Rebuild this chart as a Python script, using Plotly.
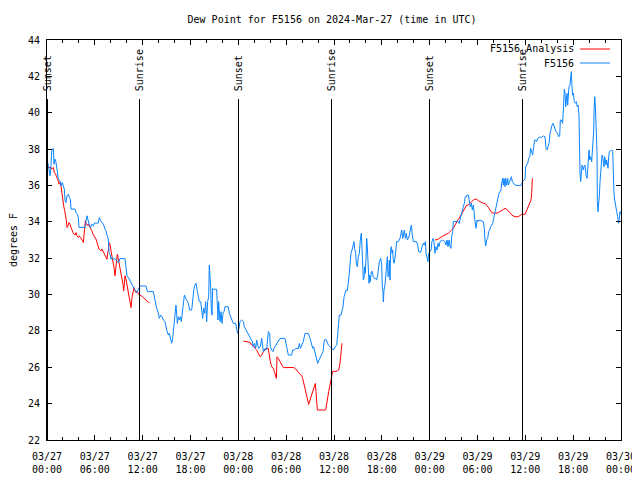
import pandas as pd
import plotly.graph_objects as go

BASE = pd.Timestamp("2024-03-27 00:00")

# ---- F5156 observations: hours after 03/27 00:00 UTC, dew point (F)
obs_hours = [
    0.0, 0.08, 0.25, 0.38, 0.5, 0.59, 0.71, 0.79, 0.88, 1.0, 1.13, 1.21, 1.34, 1.42, 1.63, 1.76, 1.92, 2.05, 2.17, 2.26,
    2.38, 2.51, 2.68, 2.8, 2.93, 3.01, 3.51, 3.64, 3.81, 3.93, 4.01, 4.77, 4.89, 5.02, 5.18, 5.31, 5.48, 5.6, 5.81, 5.94,
    6.44, 6.56, 6.73, 6.86, 7.07, 7.28, 7.4, 7.53, 7.69, 7.78, 7.9, 8.03, 8.15, 8.32, 8.53, 8.74, 8.95, 9.16, 9.78, 9.91,
    10.04, 10.2, 10.41, 10.62, 10.75, 10.96, 11.12, 11.29, 11.46, 11.67, 12.42, 12.59, 13.34, 13.46, 13.59, 13.76, 13.97,
    14.09, 14.26, 14.43, 14.59, 14.8, 15.01, 15.22, 15.34, 15.51, 15.64, 15.76, 15.93, 16.06, 16.18, 16.35, 16.47, 16.6,
    16.73, 16.85, 16.98, 17.1, 17.23, 17.4, 17.52, 17.65, 17.77, 17.9, 18.15, 18.27, 18.44, 18.56, 18.69, 18.86, 18.98,
    19.11, 19.28, 19.4, 19.53, 19.65, 19.78, 19.9, 20.03, 20.15, 20.28, 20.36, 20.45, 20.53, 20.61, 20.7, 20.78, 20.91,
    21.28, 21.37, 21.45, 21.53, 21.62, 21.7, 21.83, 21.95, 22.08, 22.2, 22.33, 22.74, 22.87, 23.04, 23.21, 23.37, 23.66,
    23.79, 23.91, 24.08, 24.21, 24.42, 24.63, 24.75, 24.96, 25.17, 25.38, 25.59, 25.76, 25.88, 26.01, 26.18, 26.3, 26.43,
    26.55, 26.76, 26.93, 27.14, 27.35, 27.55, 27.76, 27.93, 28.01, 28.18, 28.35, 28.47, 28.6, 28.81, 29.02, 29.23, 29.85,
    30.06, 30.27, 30.69, 30.82, 31.02, 31.23, 31.53, 31.65, 31.78, 31.95, 32.15, 32.36, 32.78, 32.99, 33.12, 33.33, 33.45,
    33.62, 33.83, 33.95, 34.12, 34.29, 34.45, 34.62, 34.79, 34.96, 35.12, 35.29, 35.5, 35.71, 35.92, 36.13, 36.34, 36.46,
    36.54, 36.67, 36.88, 37.0, 37.13, 37.26, 37.38, 37.51, 37.67, 37.8, 37.88, 38.01, 38.13, 38.26, 38.38, 38.51, 38.59,
    38.72, 38.8, 38.93, 39.05, 39.18, 39.3, 39.43, 39.51, 39.6, 39.68, 39.76, 39.85, 39.93, 40.02, 40.1, 40.18, 40.27,
    40.39, 40.48, 40.56, 40.68, 40.81, 40.93, 41.06, 41.19, 41.35, 41.48, 41.6, 41.69, 41.86, 41.98, 42.06, 42.15, 42.19,
    42.27, 42.4, 42.52, 42.61, 42.69, 42.78, 42.86, 42.94, 43.03, 43.11, 43.19, 43.28, 43.36, 43.44, 43.53, 43.65, 43.78,
    43.86, 44.07, 44.28, 44.41, 44.49, 44.62, 44.7, 44.82, 44.95, 45.07, 45.2, 45.33, 45.45, 45.58, 45.7, 45.83, 45.95,
    46.37, 46.5, 46.62, 46.87, 47.04, 47.21, 47.33, 47.46, 47.54, 47.71, 47.79, 47.88, 48.04, 48.17, 48.29, 48.42, 48.54,
    48.67, 48.8, 48.92, 49.05, 49.17, 49.3, 49.59, 49.92, 50.05, 50.18, 50.3, 50.43, 50.55, 50.68, 50.76, 50.89, 50.97,
    51.6, 51.72, 51.85, 51.97, 52.1, 52.22, 52.35, 52.47, 52.6, 52.68, 52.85, 52.98, 53.1, 53.23, 53.35, 53.48, 53.6,
    53.69, 53.81, 53.94, 54.06, 54.19, 54.73, 54.86, 54.94, 55.03, 55.15, 55.28, 55.4, 55.53, 55.65, 55.78, 55.9, 56.03,
    56.16, 56.28, 56.41, 56.53, 56.61, 56.7, 56.82, 56.95, 57.03, 57.16, 57.24, 57.32, 57.45, 57.54, 57.66, 57.79, 57.87,
    57.99, 58.12, 58.25, 58.37, 58.54, 58.71, 59.12, 59.54, 59.62, 59.79, 59.96, 60.04, 60.17, 60.3, 60.42, 60.55, 60.67,
    60.8, 60.92, 61.05, 61.17, 61.3, 61.42, 61.55, 61.76, 62.05, 62.26, 62.47, 62.59, 62.72, 62.85, 62.97, 63.1, 63.22,
    63.35, 63.47, 63.6, 63.72, 63.85, 64.02, 64.18, 64.31, 64.39, 64.52, 64.6, 64.68, 64.77, 64.89, 64.98, 65.06, 65.14,
    65.23, 65.31, 65.39, 65.48, 65.6, 65.69, 65.77, 65.85, 65.94, 66.02, 66.15, 66.27, 66.4, 66.52, 66.61, 66.73, 66.77,
    66.86, 66.94, 67.02, 67.11, 67.19, 67.28, 67.36, 67.49, 67.61, 67.74, 67.82, 67.9, 67.99, 68.07, 68.2, 68.32, 68.41,
    68.49, 68.57, 68.62, 68.7, 68.78, 68.87, 68.99, 69.03, 69.12, 69.2, 69.28, 69.37, 69.45, 69.53, 69.62, 69.7, 69.79,
    69.87, 69.95, 70.04, 70.12, 70.2, 70.29, 70.37, 70.46, 70.54, 70.71, 70.87, 70.96, 71.04, 71.12, 71.21, 71.33, 71.46,
    71.58, 71.71, 71.79, 71.88, 71.96, 72.0,
]
obs_dewpt = [
    37.36, 37.27, 36.9, 36.53, 37.08, 37.9, 38.0, 38.04, 37.17, 37.45, 37.27, 36.99, 36.81, 36.35, 36.26, 35.98, 36.17,
    35.98, 35.8, 35.16, 35.06, 35.43, 35.52, 35.34, 35.25, 34.7, 34.7, 34.51, 34.42, 34.24, 33.69, 33.69, 34.15, 34.33,
    34.06, 33.78, 33.69, 33.87, 33.78, 33.93, 33.93, 34.24, 34.06, 33.96, 33.87, 33.6, 33.5, 33.27, 33.05, 32.31, 32.22,
    31.94, 32.04, 31.94, 31.98, 31.85, 31.76, 31.98, 31.98, 31.49, 31.03, 30.94, 30.75, 30.57, 30.39, 30.29, 30.2, 30.11,
    30.29, 30.47, 30.47, 30.16, 30.16, 29.88, 29.42, 29.24, 28.97, 28.69, 28.87, 28.78, 28.6, 28.51, 28.05, 27.77, 27.87,
    27.5, 27.32, 27.59, 28.51, 29.24, 29.42, 28.41, 28.78, 28.6, 28.78, 28.51, 29.15, 29.61, 29.97, 29.79, 29.7, 29.61,
    29.42, 29.15, 29.15, 29.7, 30.34, 30.52, 30.62, 30.16, 29.79, 29.61, 29.61, 29.06, 28.69, 29.24, 28.97, 29.61, 28.51,
    29.61, 29.88, 31.62, 31.07, 30.43, 29.24, 28.87, 30.34, 30.29, 30.29, 29.06, 28.6, 29.61, 28.87, 28.51, 29.06, 28.41,
    28.97, 29.06, 29.33, 29.33, 28.97, 28.78, 28.51, 28.41, 28.41, 28.14, 27.87, 28.14, 28.51, 28.6, 28.51, 28.23, 28.05,
    27.86, 27.68, 27.5, 27.41, 27.13, 27.31, 27.04, 27.5, 27.22, 27.04, 27.13, 27.59, 26.86, 27.04, 26.95, 27.96, 27.86,
    27.13, 26.95, 26.86, 27.04, 27.13, 27.31, 27.41, 27.59, 27.59, 27.13, 26.67, 26.67, 26.95, 26.95, 27.04, 27.04, 27.31,
    27.04, 27.22, 27.41, 27.86, 27.86, 27.59, 27.31, 27.04, 27.13, 26.76, 26.49, 26.21, 26.4, 26.58, 26.67, 26.86, 27.5,
    27.55, 27.41, 27.22, 27.13, 27.04, 26.95, 27.13, 27.22, 27.77, 28.42, 28.87, 28.87, 29.06, 29.33, 29.88, 30.16, 30.25,
    30.21, 30.62, 30.98, 31.62, 32.27, 32.45, 32.72, 32.91, 32.54, 32.27, 31.72, 31.53, 32.08, 32.27, 33.0, 33.37, 32.63,
    31.72, 30.8, 30.89, 31.53, 31.17, 32.08, 33.09, 32.63, 31.35, 30.62, 31.07, 30.71, 31.26, 31.26, 30.98, 30.89, 30.89,
    30.8, 31.07, 31.44, 31.81, 31.99, 31.62, 30.43, 30.16, 29.59, 30.25, 30.52, 31.07, 31.71, 32.08, 30.98, 31.07, 31.9,
    30.8, 32.45, 32.63, 32.27, 32.45, 31.9, 31.72, 31.99, 32.63, 32.91, 32.91, 33.09, 33.37, 33.55, 33.09, 33.27, 33.55,
    33.09, 33.37, 33.0, 33.09, 33.27, 33.64, 33.82, 33.27, 32.91, 32.91, 32.72, 32.36, 32.32, 32.63, 32.82, 32.72, 32.91,
    32.27, 31.99, 31.81, 32.27, 32.36, 32.45, 32.91, 33.09, 32.91, 32.27, 32.63, 32.45, 32.82, 32.63, 32.91, 33.0, 32.91,
    32.72, 33.0, 32.63, 33.0, 32.63, 32.54, 33.18, 33.46, 34.01, 34.01, 33.91, 34.19, 34.47, 34.74, 34.83, 35.02, 35.38,
    35.38, 35.47, 35.47, 35.2, 34.83, 35.02, 34.65, 34.92, 34.56, 34.01, 33.64, 34.1, 34.01, 34.1, 34.01, 33.64, 33.0,
    32.67, 33.0, 33.09, 33.46, 33.55, 33.73, 33.82, 33.91, 34.19, 34.47, 34.74, 35.02, 35.11, 35.29, 35.57, 35.66, 35.75,
    36.12, 36.39, 36.02, 36.39, 35.93, 36.39, 36.02, 36.39, 36.02, 36.21, 36.3, 36.48, 36.21, 36.08, 36.02, 35.99, 36.02,
    36.21, 36.3, 36.34, 37.03, 37.12, 37.22, 37.49, 37.58, 38.04, 37.86, 37.67, 38.13, 38.5, 38.5, 38.41, 38.59, 38.65,
    38.65, 38.72, 38.68, 38.04, 37.95, 38.13, 38.32, 38.87, 39.14, 39.32, 39.42, 39.23, 39.05, 38.96, 38.87, 38.68, 38.72,
    39.6, 39.6, 39.51, 39.42, 40.15, 41.29, 41.07, 40.33, 40.7, 41.07, 40.42, 40.88, 41.43, 41.52, 42.07, 42.26, 41.43,
    40.97, 41.07, 40.61, 40.52, 40.61, 40.33, 40.42, 39.87, 37.77, 36.67, 36.21, 36.57, 37.12, 37.03, 36.85, 37.03, 37.12,
    36.57, 36.39, 36.85, 37.67, 37.95, 37.4, 37.58, 37.31, 37.86, 38.5, 38.96, 40.06, 40.88, 40.42, 38.96, 37.86, 35.11,
    34.56, 35.02, 35.38, 36.21, 36.85, 37.22, 37.67, 37.58, 37.03, 37.03, 37.58, 37.31, 37.12, 37.4, 37.03, 36.94, 37.58,
    37.86, 37.91, 37.95, 37.86, 36.3, 35.57, 35.2, 34.74, 34.56, 34.28, 33.92, 34.19, 34.56, 34.47, 34.4,
]

# ---- F5156 analysis: three daily runs (None separates runs)
ana_hours = [
    0.0, 0.5, 0.59, 0.79, 0.92, 1.09, 1.21, 1.34, 1.51, 1.63, 1.76, 1.84, 1.97, 2.09, 2.22, 2.34, 2.43, 2.51, 2.63, 2.76,
    2.88, 3.01, 3.14, 3.26, 3.39, 3.51, 3.64, 3.76, 3.93, 4.06, 4.18, 4.35, 4.47, 4.56, 4.64, 4.72, 4.81, 4.89, 5.02, 5.14,
    5.27, 5.39, 5.52, 5.64, 5.77, 5.9, 6.02, 6.15, 6.27, 6.4, 6.52, 6.65, 6.77, 6.9, 7.02, 7.15, 7.28, 7.4, 7.53, 7.61,
    7.69, 7.78, 7.9, 8.03, 8.15, 8.28, 8.4, 8.53, 8.61, 8.74, 8.82, 8.91, 9.03, 9.16, 9.28, 9.41, 9.53, 9.62, 9.7, 9.78,
    9.91, 10.04, 10.16, 10.29, 10.41, 10.54, 10.66, 10.79, 10.91, 11.04, 11.16, 11.29, 11.46, 11.67, 11.87, 12.08, 12.29,
    12.5, 12.71, 12.84, None,
    24.63, 25.05, 25.46, 25.67, 25.88, 26.09, 26.3, 26.51, 26.72, 26.93, 27.14, 27.35, 27.55, 27.76, 27.89, 28.01, 28.18,
    28.39, 28.52, 28.64, 28.77, 28.85, 29.02, 29.23, 29.44, 29.65, 29.85, 30.27, 30.9, 31.11, 31.32, 31.53, 31.74, 31.95,
    32.07, 32.2, 32.32, 32.45, 32.57, 32.7, 32.82, 32.99, 33.2, 33.41, 33.53, 33.66, 33.74, 33.83, 33.91, 34.96, 35.08,
    35.21, 35.33, 35.46, 35.58, 35.71, 35.83, 36.0, 36.13, 36.42, 36.59, 36.75, 36.88, 37.0, None,
    48.67, 49.09, 49.51, 49.92, 50.34, 50.76, 50.97, 51.18, 51.39, 51.6, 51.81, 52.02, 52.22, 52.43, 52.64, 52.85, 53.06,
    53.27, 53.48, 53.69, 53.9, 54.11, 54.32, 54.52, 54.73, 54.94, 55.15, 55.36, 55.57, 55.78, 56.2, 56.61, 56.82, 57.03,
    57.24, 57.45, 57.66, 57.87, 58.08, 58.29, 58.5, 58.71, 59.12, 59.33, 59.54, 59.96, 60.17, 60.38, 60.59, 60.71, 60.8,
    60.84, 60.88,
]
ana_dewpt = [
    36.99, 36.99, 36.9, 36.99, 36.72, 36.62, 36.44, 36.35, 36.07, 36.17, 35.98, 35.61, 35.25, 34.88, 34.61, 34.33, 34.06,
    33.69, 33.78, 33.96, 33.87, 33.69, 33.5, 33.41, 33.32, 33.27, 33.41, 33.23, 33.14, 33.23, 33.14, 33.05, 32.95, 32.86,
    33.32, 33.69, 34.06, 33.87, 33.87, 33.78, 33.87, 33.69, 33.6, 33.5, 33.32, 33.23, 33.14, 33.05, 32.86, 32.59, 32.5,
    32.46, 32.4, 32.5, 32.4, 32.31, 32.22, 32.04, 31.94, 32.31, 32.4, 32.86, 32.77, 32.4, 32.13, 31.85, 31.49, 31.03,
    31.3, 31.76, 32.22, 32.04, 31.76, 31.39, 31.21, 30.94, 30.57, 30.2, 30.57, 31.03, 30.84, 30.48, 30.11, 29.93, 29.65,
    29.28, 29.83, 30.29, 30.39, 30.2, 30.11, 30.2, 30.02, 29.96, 29.93, 29.83, 29.75, 29.64, 29.57, 29.57, None,
    27.44, 27.41, 27.37, 27.22, 27.19, 27.04, 26.95, 26.76, 26.58, 26.67, 26.86, 26.95, 27.04, 27.04, 26.58, 26.31, 26.03,
    25.94, 25.76, 25.57, 25.39, 26.58, 26.49, 26.31, 26.16, 25.98, 25.98, 25.99, 25.99, 25.94, 25.85, 25.72, 25.61, 25.54,
    25.39, 25.11, 24.84, 24.56, 24.29, 24.07, 23.96, 24.2, 24.47, 24.75, 24.93, 25.11, 24.66, 24.14, 23.65, 23.65, 24.07,
    24.38, 24.66, 24.93, 25.24, 25.66, 25.76, 25.79, 25.76, 25.81, 25.85, 26.22, 26.77, 27.32, None,
    33.0, 33.05, 33.18, 33.27, 33.37, 33.55, 33.64, 33.82, 34.01, 34.14, 34.28, 34.46, 34.65, 34.83, 34.92, 34.92, 35.02,
    35.11, 35.2, 35.24, 35.24, 35.16, 35.11, 35.05, 35.02, 35.02, 34.92, 34.8, 34.65, 34.5, 34.47, 34.5, 34.56, 34.61,
    34.69, 34.74, 34.69, 34.61, 34.5, 34.37, 34.32, 34.28, 34.28, 34.34, 34.41, 34.41, 34.65, 34.83, 35.05, 35.2, 35.57,
    35.93, 36.39,
]

# ---- sun events (hours after 03/27 00:00 UTC)
event_hours = [0.063, 11.603, 24.021, 35.686, 47.979, 59.644]
event_names = ["Sunset", "Sunrise", "Sunset", "Sunrise", "Sunset", "Sunrise"]

# ---- axis ticks
xtick_hours = [0, 6, 12, 18, 24, 30, 36, 42, 48, 54, 60, 66, 72]
xtick_text = ["03/27<br>00:00", "03/27<br>06:00", "03/27<br>12:00", "03/27<br>18:00",
              "03/28<br>00:00", "03/28<br>06:00", "03/28<br>12:00", "03/28<br>18:00",
              "03/29<br>00:00", "03/29<br>06:00", "03/29<br>12:00", "03/29<br>18:00",
              "03/30<br>00:00"]
ytick_vals = [22, 24, 26, 28, 30, 32, 34, 36, 38, 40, 42, 44]

RED = "#ff0000"
BLUE = "#0a84ff"
FONT = "DejaVu Sans Mono"


def to_time(hours):
    return [None if h is None else BASE + pd.Timedelta(hours=h) for h in hours]


fig = go.Figure()
fig.add_trace(go.Scatter(x=to_time(ana_hours), y=ana_dewpt, mode="lines", name="F5156_Analysis",
                         line=dict(color=RED, width=1), connectgaps=False, showlegend=False))
fig.add_trace(go.Scatter(x=to_time(obs_hours), y=obs_dewpt, mode="lines", name="F5156",
                         line=dict(color=BLUE, width=1), showlegend=False))

line_top = 40.75
for h, name in zip(event_hours, event_names):
    t = BASE + pd.Timedelta(hours=h)
    fig.add_shape(type="line", xref="x", yref="y", x0=t, x1=t, y0=22, y1=line_top,
                  line=dict(color="black", width=1))
    fig.add_annotation(x=t, y=41.1, xref="x", yref="y", text=name, textangle=-90,
                       showarrow=False, xanchor="center", yanchor="bottom",
                       font=dict(family=FONT, size=10, color="black"), borderpad=0)

# custom gnuplot-style key (text then sample line)
for txt, col, yp in [("F5156_Analysis", RED, 0.9775), ("F5156", BLUE, 0.9425)]:
    fig.add_annotation(x=0.92, y=yp, xref="paper", yref="paper", text=txt, showarrow=False,
                       xanchor="right", yanchor="middle", font=dict(family=FONT, size=10, color="black"),
                       borderpad=0)
    fig.add_shape(type="line", xref="paper", yref="paper", x0=0.9286, x1=0.9808, y0=yp, y1=yp,
                  line=dict(color=col, width=1))

# page body has an 8px margin: size the figure so the plot box lands at 47..621 x 40..440
fig.update_layout(
    width=632, height=472,
    margin=dict(l=39, r=19, t=32, b=40),
    paper_bgcolor="white", plot_bgcolor="white",
    font=dict(family=FONT, size=10, color="black"),
    title=dict(text="Dew Point for F5156 on 2024-Mar-27 (time in UTC)", x=0.5127, xanchor="center",
               y=1 - 11 / 472, yanchor="middle", font=dict(family=FONT, size=10, color="black")),
    showlegend=False,
)
fig.update_xaxes(
    type="date", automargin=False,
    range=[BASE, BASE + pd.Timedelta(hours=72)],
    tickvals=to_time(xtick_hours), ticktext=xtick_text,
    ticks="inside", ticklen=5, tickcolor="black", tickwidth=1,
    showline=True, linecolor="black", linewidth=1, mirror="allticks",
    showgrid=False, zeroline=False, ticklabelstandoff=7, ticklabeloverflow="allow",
    minor=dict(ticks="inside", ticklen=3, tickcolor="black",
               tickvals=to_time(list(range(0, 73, 2))), showgrid=False),
    tickfont=dict(family=FONT, size=10, color="black"),
)
fig.update_yaxes(
    range=[22, 44], tickvals=ytick_vals, automargin=False,
    ticks="inside", ticklen=5, tickcolor="black", tickwidth=1,
    showline=True, linecolor="black", linewidth=1, mirror="allticks",
    showgrid=False, zeroline=False, ticklabelstandoff=4,
    title=dict(text="degrees F", font=dict(family=FONT, size=10, color="black"), standoff=16),
    tickfont=dict(family=FONT, size=10, color="black"),
)

fig.write_html("out.html")
